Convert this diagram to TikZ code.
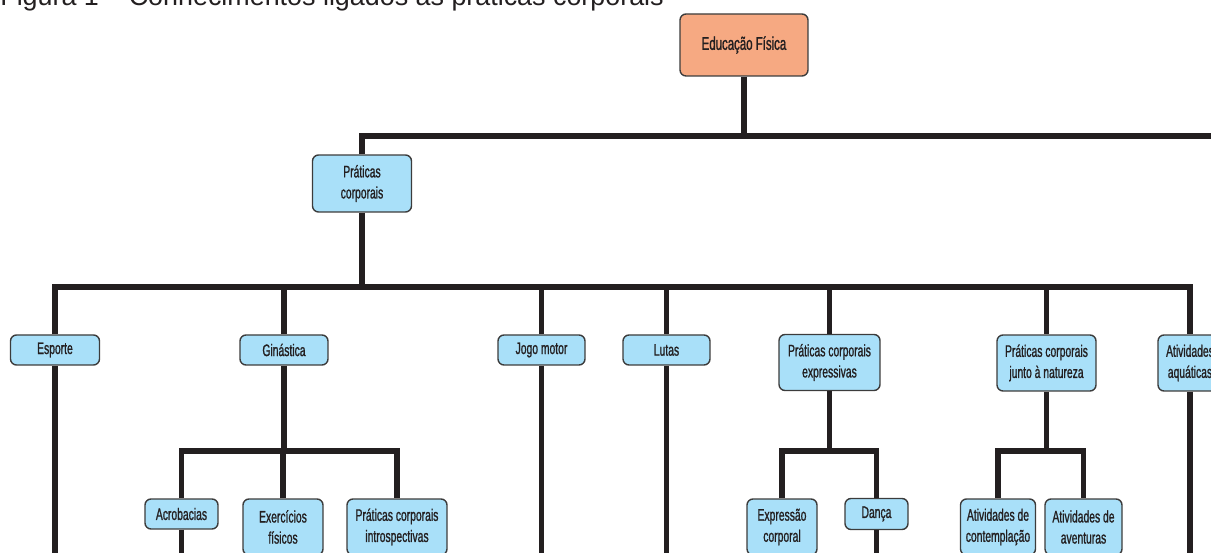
\documentclass[tikz,border=0pt]{standalone}
\usepackage{fontspec}
\usepackage{xcolor}
\usepackage{tikz}
\setmainfont{Liberation Sans}
\newfontfamily\boxfont[FakeStretch=0.62, FakeBold=1]{Liberation Sans}
\definecolor{ink}{HTML}{231F20}
\definecolor{boxline}{HTML}{3C3C3C}
\definecolor{boxblue}{HTML}{A9E0F9}
\definecolor{salmon}{HTML}{F6A982}
\tikzset{
  box/.style={draw=boxline, fill=boxblue, line width=0.8pt, rounded corners=0.12cm,
    inner sep=0pt, align=center, text=ink, font={\boxfont\fontsize{9.5}{12}\selectfont}},
  rootbox/.style={box, fill=salmon, font={\boxfont\fontsize{10.5}{12}\selectfont}},
  link/.style={draw=ink, line width=3pt, line join=miter}
}

\begin{document}
\begin{tikzpicture}[x=0.02cm, y=-0.02cm]
    \useasboundingbox (0,0) rectangle (1211,553);
    \clip (0,0) rectangle (1211,553);
    % title, cut at the top edge
    \node[anchor=base west, inner sep=0pt, text=ink, font=\fontsize{15.3}{18}\selectfont] (titulo) at (0,6)
        {Figura 1 -- Conhecimentos ligados às práticas corporais};
    % bar levels
    \coordinate (bar1) at (0,136);
    \coordinate (bar2) at (0,287);
    \coordinate (bar3) at (0,451);
    \coordinate (bot) at (0,565);
    \coordinate (far) at (1235,136);
    % boxes
    \node[rootbox, minimum width=2.56cm, minimum height=1.24cm] (edfis) at (744,45) {Educação Física};
    \node[box, minimum width=1.98cm, minimum height=1.14cm] (praticas) at (362,183.5) {Práticas\\corporais};
    \node[box, minimum width=1.78cm, minimum height=0.6cm] (esporte) at (55,350) {Esporte};
    \node[box, minimum width=1.76cm, minimum height=0.6cm] (ginastica) at (284,350) {Ginástica};
    \node[box, minimum width=1.74cm, minimum height=0.6cm] (jogo) at (541.5,350) {Jogo motor};
    \node[box, minimum width=1.74cm, minimum height=0.6cm] (lutas) at (666.5,350) {Lutas};
    \node[box, minimum width=2.02cm, minimum height=1.12cm] (expressivas) at (829.5,362.5) {Práticas corporais\\expressivas};
    \node[box, minimum width=1.98cm, minimum height=1.12cm] (natureza) at (1046.5,363) {Práticas corporais\\junto à natureza};
    \node[box, minimum width=1.28cm, minimum height=1.12cm] (aquaticas) at (1190,363) {Atividades\\aquáticas};
    \node[box, minimum width=1.46cm, minimum height=0.6cm] (acrobacias) at (181.5,514) {Acrobacias};
    \node[box, minimum width=1.6cm, minimum height=1.12cm] (exercicios) at (283,527) {Exercícios\\físicos};
    \node[box, minimum width=2.0cm, minimum height=1.12cm] (introspectivas) at (397,527) {Práticas corporais\\introspectivas};
    \node[box, minimum width=1.4cm, minimum height=1.12cm] (expressao) at (782,527) {Expressão\\corporal};
    \node[box, minimum width=1.26cm, minimum height=0.62cm] (danca) at (876.5,514) {Dança};
    \node[box, minimum width=1.5cm, minimum height=1.12cm] (contemplacao) at (998,527) {Atividades de\\contemplação};
    \node[box, minimum width=1.54cm, minimum height=1.12cm] (aventuras) at (1083.5,527) {Atividades de\\aventuras};
    % connectors
    \draw[link] (edfis.south) -- (edfis.south |- bar1);
    \draw[link] (praticas.north) -- (praticas.north |- bar1) -- (far);
    \draw[link] (praticas.south) -- (praticas.south |- bar2);
    \draw[link] (esporte.north) -- (esporte.north |- bar2) -- (aquaticas.north |- bar2) -- (aquaticas.north);
    \foreach \n in {ginastica,jogo,lutas,expressivas,natureza}
        \draw[link] (\n.north) -- (\n.north |- bar2);
    \foreach \n in {esporte,jogo,lutas,aquaticas,acrobacias,danca}
        \draw[link] (\n.south) -- (\n.south |- bot);
    \draw[link] (ginastica.south) -- (ginastica.south |- bar3);
    \draw[link] (acrobacias.north) -- (acrobacias.north |- bar3) -- (introspectivas.north |- bar3) -- (introspectivas.north);
    \draw[link] (exercicios.north) -- (exercicios.north |- bar3);
    \draw[link] (expressivas.south) -- (expressivas.south |- bar3);
    \draw[link] (expressao.north) -- (expressao.north |- bar3) -- (danca.north |- bar3) -- (danca.north);
    \draw[link] (natureza.south) -- (natureza.south |- bar3);
    \draw[link] (contemplacao.north) -- (contemplacao.north |- bar3) -- (aventuras.north |- bar3) -- (aventuras.north);
\end{tikzpicture}
\end{document}
